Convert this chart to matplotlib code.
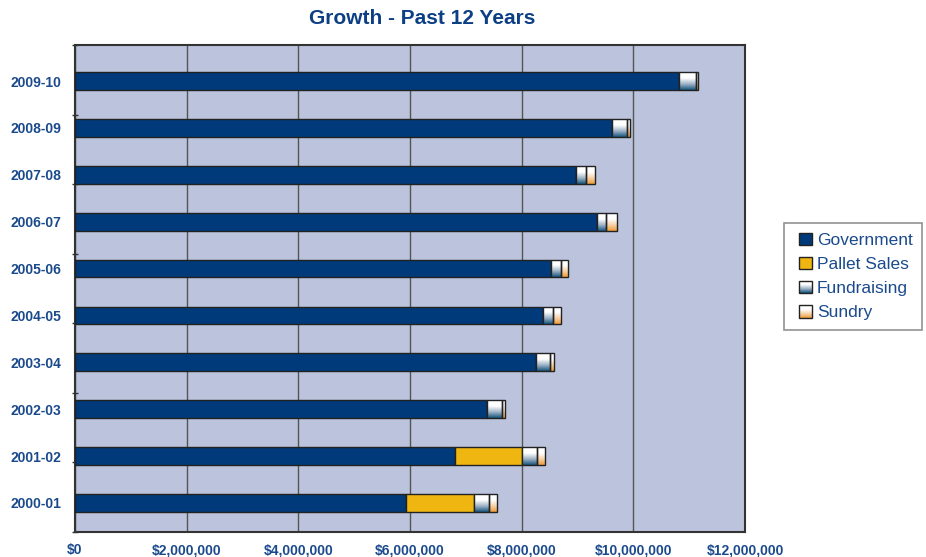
import numpy as np
import matplotlib
matplotlib.use("Agg")
import matplotlib.pyplot as plt
from matplotlib.colors import LinearSegmentedColormap
from matplotlib.patches import Rectangle
from matplotlib.legend_handler import HandlerBase
from matplotlib.image import BboxImage
from matplotlib.transforms import Bbox, TransformedBbox
from matplotlib.ticker import FuncFormatter, MultipleLocator

years = ["2000-01", "2001-02", "2002-03", "2003-04", "2004-05",
         "2005-06", "2006-07", "2007-08", "2008-09", "2009-10"]
government = [5.93, 6.81, 7.38, 8.26, 8.38, 8.53, 9.35, 8.97, 9.62, 10.82]
pallet_sales = [1.22, 1.20, 0.0, 0.0, 0.0, 0.0, 0.0, 0.0, 0.0, 0.0]
fundraising = [0.27, 0.27, 0.27, 0.25, 0.18, 0.17, 0.16, 0.18, 0.27, 0.30]
sundry = [0.14, 0.14, 0.05, 0.07, 0.14, 0.13, 0.20, 0.16, 0.05, 0.04]
series_names = ["Government", "Pallet Sales", "Fundraising", "Sundry"]

scale = 1e6
TXT = "#1a4a8c"
TITLE = "#0d3f85"
BG = "#bcc3dc"
NAVY = "#003a7a"
GOLD = "#efb511"
fund_cmap = LinearSegmentedColormap.from_list("fund", ["#16557f", "#9fb3c6", "#ffffff", "#ffffff"])
sun_cmap = LinearSegmentedColormap.from_list("sun", ["#ee9c3a", "#f6d2a8", "#ffffff", "#ffffff"])

plt.rcParams['font.family'] = ['Liberation Sans', 'DejaVu Sans']

fig = plt.figure(figsize=(9.26, 5.57), dpi=100)
ax = fig.add_axes([75/926, 1-532/557, 670/926, 487/557])
ax.set_facecolor(BG)

y = np.arange(len(years))
h = 0.38
gov = np.array(government) * scale
pal = np.array(pallet_sales) * scale
fun = np.array(fundraising) * scale
sun = np.array(sundry) * scale

ax.barh(y, gov, height=h, color=NAVY, edgecolor="#222222", lw=1, zorder=3)
ax.barh(y, pal, left=gov, height=h, color=GOLD, edgecolor="#222222", lw=1, zorder=3)

grad = np.linspace(0, 1, 64).reshape(-1, 1)

def gradient_bars(vals, left, cmap):
    bars = ax.barh(y, vals, left=left, height=h, color="none", edgecolor="#222222", lw=1, zorder=4)
    for b in bars:
        x0, y0 = b.get_x(), b.get_y()
        w, hh = b.get_width(), b.get_height()
        if w <= 0:
            continue
        im = ax.imshow(grad, cmap=cmap, origin="lower", aspect="auto",
                       extent=(x0, x0 + w, y0, y0 + hh), zorder=3.5, interpolation="bilinear")
        im.set_clip_path(b)

gradient_bars(fun, gov + pal, fund_cmap)
gradient_bars(sun, gov + pal + fun, sun_cmap)

ylo, yhi = -0.62, 9.77
ax.set_xlim(0, 12e6)
ax.set_ylim(ylo, yhi)
ax.xaxis.set_major_locator(MultipleLocator(2e6))
ax.xaxis.set_major_formatter(FuncFormatter(lambda v, p: "${:,.0f}".format(v)))
ax.grid(axis="x", color="#555555", lw=1, zorder=1)
ax.set_yticks(y)
ax.set_yticklabels(years)
ax.set_yticks(ylo + np.linspace(0, 1, 8) * (yhi - ylo), minor=True)
ax.tick_params(axis="y", which="major", length=0, pad=10, labelsize=10, labelcolor=TXT)
ax.tick_params(axis="y", which="minor", length=5, width=1, color="#333333", direction="inout")
ax.tick_params(axis="x", length=0, pad=8, labelsize=10, labelcolor=TXT)
for lab in ax.get_xticklabels() + ax.get_yticklabels():
    lab.set_fontweight("bold")
for s in ax.spines.values():
    s.set_color("#333333")
    s.set_linewidth(1.5)

fig.text(0.456, 0.967, "Growth - Past 12 Years", ha="center", va="center",
         fontsize=15, fontweight="bold", color=TITLE)


class GradHandler(HandlerBase):
    def __init__(self, cmap):
        super().__init__()
        self.cmap = cmap

    def create_artists(self, legend, orig_handle, xdescent, ydescent, width, height, fontsize, trans):
        s = height
        x0 = -xdescent + width - s
        bb = TransformedBbox(Bbox.from_bounds(x0, -ydescent, s, s), trans)
        img = BboxImage(bb, cmap=self.cmap, interpolation="bilinear", origin="lower")
        img.set_data(np.linspace(0, 1, 32).reshape(-1, 1))
        rect = Rectangle((x0, -ydescent), s, s, facecolor="none", edgecolor="#222222", lw=1, transform=trans)
        return [img, rect]


class SquareHandler(HandlerBase):
    def create_artists(self, legend, orig_handle, xdescent, ydescent, width, height, fontsize, trans):
        s = height
        x0 = -xdescent + width - s
        rect = Rectangle((x0, -ydescent), s, s, facecolor=orig_handle.get_facecolor(),
                         edgecolor="#222222", lw=1, transform=trans)
        return [rect]


h_gov = Rectangle((0, 0), 1, 1, facecolor=NAVY)
h_pal = Rectangle((0, 0), 1, 1, facecolor=GOLD)
h_fun = Rectangle((0, 0), 1, 1, facecolor="#8aa")
h_sun = Rectangle((0, 0), 1, 1, facecolor="#fca")
leg = fig.legend([h_gov, h_pal, h_fun, h_sun], series_names,
                 handler_map={h_gov: SquareHandler(), h_pal: SquareHandler(),
                              h_fun: GradHandler(fund_cmap), h_sun: GradHandler(sun_cmap)},
                 loc="upper left", bbox_to_anchor=(784/926, 1-223/557),
                 frameon=True, fancybox=False, edgecolor="#777777", facecolor="white",
                 fontsize=12.5, labelcolor=TXT, handlelength=1.05, handletextpad=0.3,
                 labelspacing=0.5, borderpad=0.55, borderaxespad=0, handleheight=0.75)
leg.get_frame().set_linewidth(1.2)

fig.savefig("out.png", dpi=100)
